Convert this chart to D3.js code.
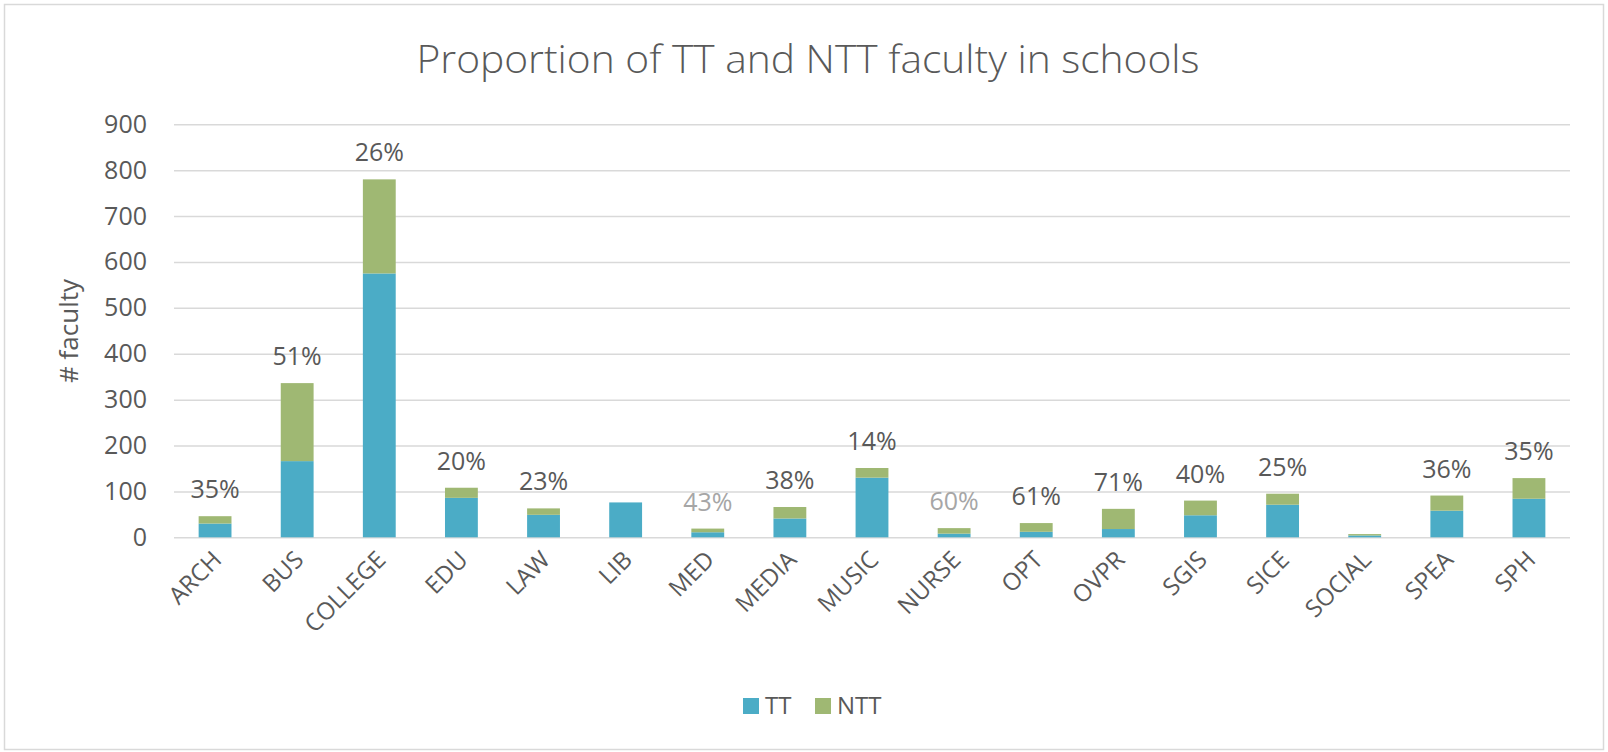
<!DOCTYPE html>
<html>
<head>
<meta charset="utf-8">
<script src="https://cdn.jsdelivr.net/npm/d3@7"></script>
<style>
  body { margin: 0; background: #fff; }
  text { font-family: "Open Sans", sans-serif; }
</style>
</head>
<body>
<script>
const schools = ["ARCH", "BUS", "COLLEGE", "EDU", "LAW", "LIB", "MED", "MEDIA", "MUSIC",
  "NURSE", "OPT", "OVPR", "SGIS", "SICE", "SOCIAL", "SPEA", "SPH"]
const tt = [30, 166, 575, 86, 49, 76, 11, 41, 130, 8, 12, 18, 48, 71, 4, 58, 84]
const ntt = [16, 170, 205, 22, 14, 0, 8, 25, 21, 12, 19, 44, 32, 24, 3, 33, 45]
const pctLabels = ["35%", "51%", "26%", "20%", "23%", "", "43%", "38%", "14%",
  "60%", "61%", "71%", "40%", "25%", "", "36%", "35%"]
const faded = ["MED", "NURSE"]
const yTicks = [0, 100, 200, 300, 400, 500, 600, 700, 800, 900]
const seriesNames = ["TT", "NTT"]

const w = 1608
const h = 752
const colors = { TT: "#4bacc6", NTT: "#9fb873" }

const svg = d3.select("body").append("svg").attr("width", w).attr("height", h)

// chart frame
svg.append("rect")
  .attr("x", 4.5).attr("y", 4.5)
  .attr("width", w - 9).attr("height", h - 7)
  .attr("fill", "#fff")
  .attr("stroke", "#d9d9d9")
  .attr("stroke-width", 1.5)

const xScale = d3.scaleBand()
  .domain(schools)
  .range([174, 1570])
  .paddingInner(0.6)
  .paddingOuter(0.3)

const yScale = d3.scaleLinear()
  .domain([0, 900])
  .range([537.3, 124.3])

// gridlines + y labels
const yAxis = d3.axisLeft(yScale)
  .tickValues(yTicks)
  .tickSize(-(1570 - 174))
  .tickPadding(27)

const gy = svg.append("g")
  .attr("transform", "translate(174,0)")
  .call(yAxis)
gy.select(".domain").remove()
gy.selectAll(".tick line").attr("stroke", "#d9d9d9").attr("stroke-width", 1.5)
gy.selectAll(".tick text")
  .attr("fill", "#595959")
  .style("font-size", "25px")

// x labels
const xAxis = d3.axisBottom(xScale).tickSize(0).tickPadding(0)
const gx = svg.append("g")
  .attr("transform", "translate(0,537.3)")
  .call(xAxis)
gx.select(".domain").remove()
gx.selectAll(".tick text")
  .attr("fill", "#595959")
  .style("font-size", "24px")
  .attr("text-anchor", "end")
  .attr("dy", 0)
  .attr("transform", "translate(8,24) rotate(-45)")

// stacked bars
const rows = schools.map((s, i) => ({ school: s, TT: tt[i], NTT: ntt[i] }))
const stack = d3.stack().keys(seriesNames)(rows)

svg.append("g")
  .selectAll("g")
  .data(stack)
  .join("g")
  .attr("fill", (d) => colors[d.key])
  .selectAll("rect")
  .data((d) => d)
  .join("rect")
  .attr("x", (d) => xScale(d.data.school))
  .attr("width", xScale.bandwidth())
  .attr("y", (d) => yScale(d[1]))
  .attr("height", (d) => yScale(d[0]) - yScale(d[1]))

// percentage labels
svg.append("g")
  .selectAll("text")
  .data(rows.map((r, i) => ({ ...r, label: pctLabels[i] })).filter((d) => d.label))
  .join("text")
  .attr("x", (d) => xScale(d.school) + xScale.bandwidth() / 2)
  .attr("y", (d) => yScale(d.TT + d.NTT) - 18)
  .attr("text-anchor", "middle")
  .style("font-size", "25px")
  .attr("fill", (d) => faded.includes(d.school) ? "#a6a6a6" : "#595959")
  .text((d) => d.label)

// title
svg.append("text")
  .attr("x", 808)
  .attr("y", 73)
  .attr("text-anchor", "middle")
  .attr("fill", "#595959")
  .style("font-size", "38px")
  .style("font-weight", 300)
  .attr("textLength", 783)
  .attr("lengthAdjust", "spacingAndGlyphs")
  .text("Proportion of TT and NTT faculty in schools")

// y axis title
svg.append("text")
  .attr("transform", "translate(78,331) rotate(-90)")
  .attr("text-anchor", "middle")
  .attr("fill", "#595959")
  .style("font-size", "26px")
  .text("# faculty")

// legend
const legendX = [743, 815]
const legend = svg.append("g")
  .selectAll("g")
  .data(seriesNames)
  .join("g")
  .attr("transform", (d, i) => `translate(${legendX[i]},698)`)
legend.append("rect")
  .attr("width", 16).attr("height", 16)
  .attr("fill", (d) => colors[d])
legend.append("text")
  .attr("x", 22)
  .attr("y", 16)
  .attr("fill", "#595959")
  .style("font-size", "24px")
  .text((d) => d)
</script>
</body>
</html>
